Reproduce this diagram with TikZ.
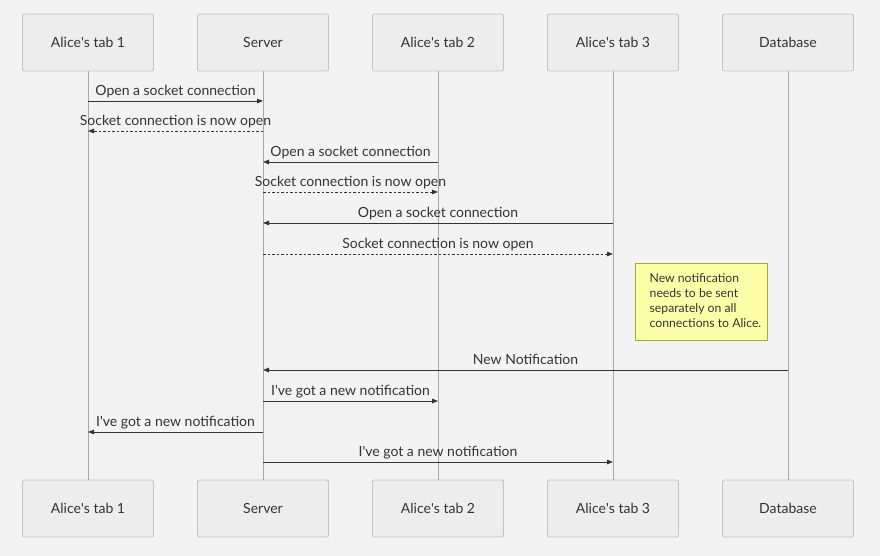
\documentclass[tikz,border=0pt]{standalone}
\usepackage{fontspec}
\setmainfont{Lato}
\usetikzlibrary{arrows.meta}
\definecolor{bg}{HTML}{F3F3F3}
\definecolor{boxfill}{HTML}{EDEDED}
\definecolor{boxline}{HTML}{C4C4C4}
\definecolor{ink}{HTML}{333333}
\definecolor{lifeline}{HTML}{A8A8A8}
\definecolor{notefill}{HTML}{FFFFAA}
\definecolor{noteline}{HTML}{AAAA33}

\begin{document}
\begin{tikzpicture}[x=1pt, y=1pt,
    actor/.style={draw=boxline, fill=boxfill, rounded corners=2pt, line width=0.9pt,
        minimum width=131pt, minimum height=57pt, text=ink, font=\fontsize{14}{16}\selectfont},
    life/.style={draw=lifeline, line width=0.7pt},
    msg/.style={draw=ink, line width=0.9pt, -{Triangle[length=6pt,width=4.5pt]}},
    reply/.style={msg, dashed, dash pattern=on 2.5pt off 2pt},
    lbl/.style={above=2pt, text=ink, font=\fontsize{14}{16}\selectfont, inner sep=0pt,
        text depth=3pt},
    note/.style={draw=noteline, fill=notefill, line width=0.7pt, text=ink,
        font=\fontsize{12.2}{15}\selectfont, inner xsep=0pt, inner ysep=8pt,
        minimum width=132pt, minimum height=77pt}]
    \fill[bg] (0,0) rectangle (880,-556);
    \useasboundingbox (0,0) rectangle (880,-556);
    % participants
    \node[actor] (T1) at (88,-42.5) {Alice\textquotesingle s tab 1};
    \node[actor] (S) at (263,-42.5) {Server};
    \node[actor] (T2) at (438,-42.5) {Alice\textquotesingle s tab 2};
    \node[actor] (T3) at (613,-42.5) {Alice\textquotesingle s tab 3};
    \node[actor] (D) at (788,-42.5) {Database};
    \node[actor] (T1b) at (88,-508.5) {Alice\textquotesingle s tab 1};
    \node[actor] (Sb) at (263,-508.5) {Server};
    \node[actor] (T2b) at (438,-508.5) {Alice\textquotesingle s tab 2};
    \node[actor] (T3b) at (613,-508.5) {Alice\textquotesingle s tab 3};
    \node[actor] (Db) at (788,-508.5) {Database};
    \foreach \a in {T1, S, T2, T3, D}
        \draw[life] (\a) -- (\a b);
    % messages
    \draw[msg] (T1 |- 0,-101) -- node[lbl] {Open a socket connection} (S |- 0,-101);
    \draw[reply] (S |- 0,-131) -- node[lbl] {Socket connection is now open} (T1 |- 0,-131);
    \draw[msg] (T2 |- 0,-162) -- node[lbl] {Open a socket connection} (S |- 0,-162);
    \draw[reply] (S |- 0,-192) -- node[lbl] {Socket connection is now open} (T2 |- 0,-192);
    \draw[msg] (T3 |- 0,-223) -- node[lbl] {Open a socket connection} (S |- 0,-223);
    \draw[reply] (S |- 0,-254) -- node[lbl] {Socket connection is now open} (T3 |- 0,-254);
    \node[note] (N) at (701,-302) {\hspace*{9pt}\begin{tabular}{@{}l@{}}New notification\\needs to be sent\\separately on all\\connections to Alice.\end{tabular}};
    \draw[msg] (D |- 0,-370) -- node[lbl] {New Notification} (S |- 0,-370);
    \draw[msg] (S |- 0,-401) -- node[lbl] {I\textquotesingle ve got a new notification} (T2 |- 0,-401);
    \draw[msg] (S |- 0,-432) -- node[lbl] {I\textquotesingle ve got a new notification} (T1 |- 0,-432);
    \draw[msg] (S |- 0,-462) -- node[lbl] {I\textquotesingle ve got a new notification} (T3 |- 0,-462);
\end{tikzpicture}
\end{document}
